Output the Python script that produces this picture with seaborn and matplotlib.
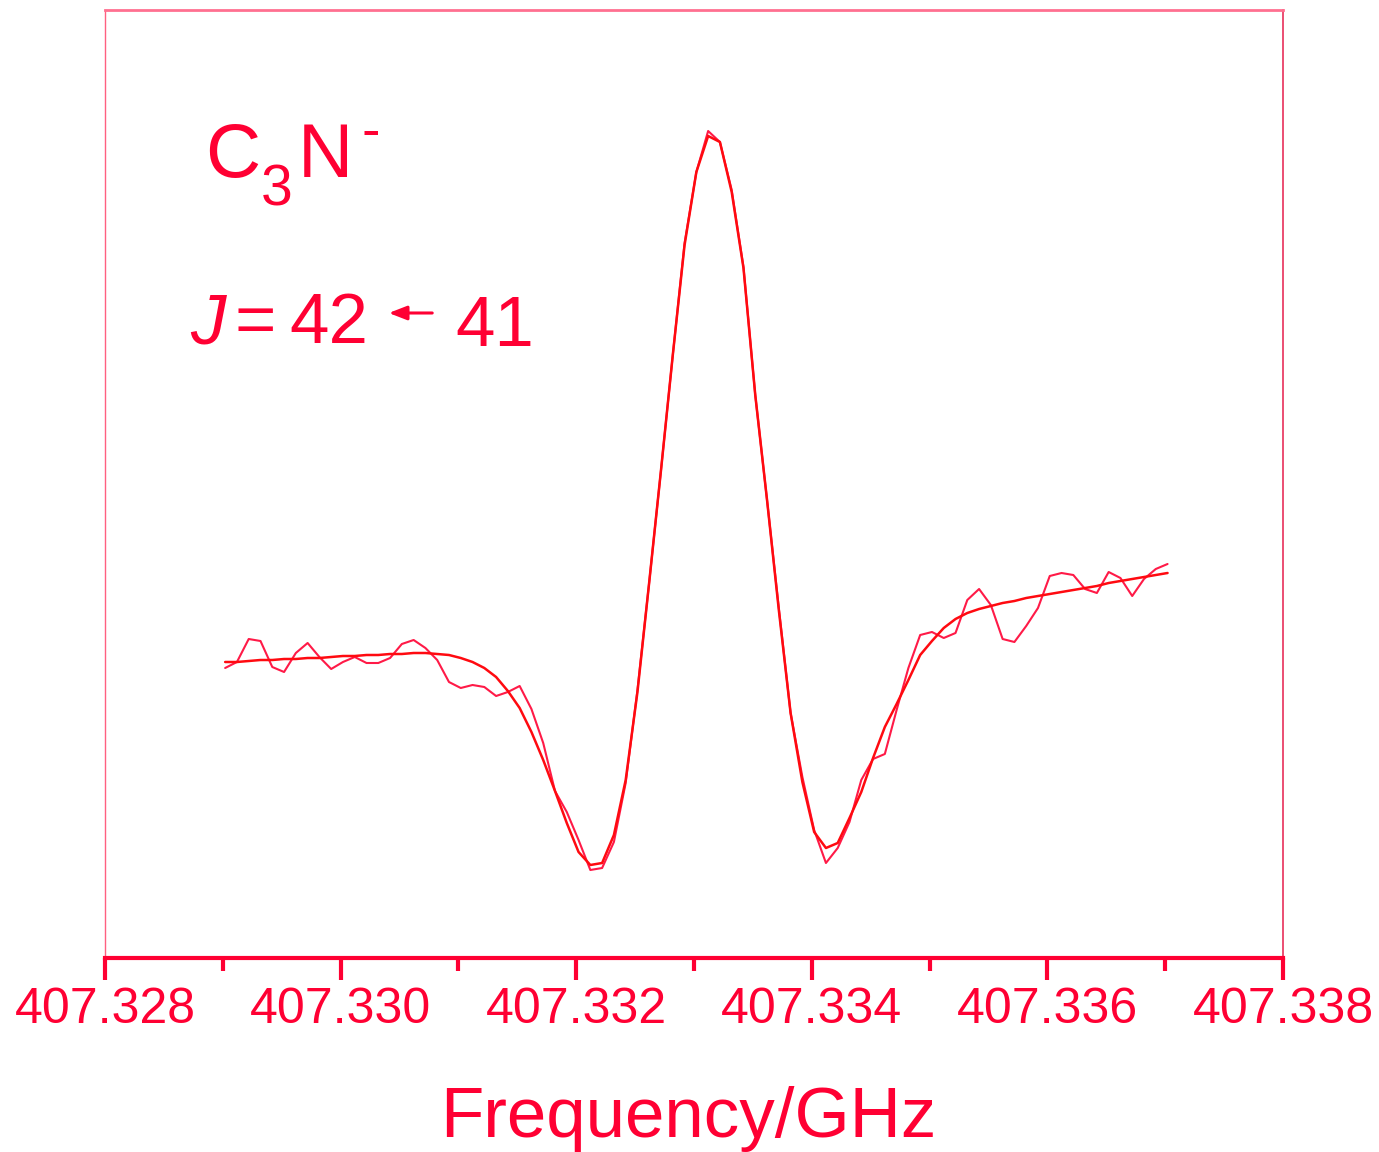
import numpy as np
import pandas as pd
import matplotlib
matplotlib.use("Agg")
import matplotlib.pyplot as plt
import seaborn as sns

# Spectrum of C3N- (J = 42 <- 41): observed channels and the fitted profile
freq_start = 407.32902   # GHz, first channel
channel_width = 0.0001   # GHz

observed = [
    29.0, 29.6, 31.9, 31.7, 29.1, 28.6, 30.5, 31.5, 30.1, 28.9,
    29.6, 30.1, 29.5, 29.5, 30.0, 31.4, 31.8, 31.0, 29.8, 27.6,
    27.0, 27.3, 27.1, 26.2, 26.6, 27.2, 24.9, 21.5, 16.7, 14.6,
    11.8, 8.8, 9.0, 11.6, 17.5, 26.8, 37.6, 48.8, 60.3, 71.5,
    78.6, 82.7, 81.6, 76.8, 69.1, 56.3, 45.8, 35.0, 24.5, 18.1,
    12.8, 9.5, 11.0, 13.6, 17.8, 19.9, 20.4, 24.8, 29.0, 32.3,
    32.6, 32.0, 32.5, 35.8, 36.9, 35.3, 31.9, 31.6, 33.2, 35.0,
    38.2, 38.5, 38.3, 36.9, 36.5, 38.6, 38.0, 36.2, 37.9, 38.9,
    39.4,
]

fitted = [
    29.6, 29.6, 29.7, 29.8, 29.8, 29.9, 29.9, 30.0, 30.0, 30.1,
    30.2, 30.2, 30.3, 30.3, 30.4, 30.4, 30.5, 30.5, 30.4, 30.3,
    30.0, 29.6, 29.0, 28.1, 26.7, 25.0, 22.6, 19.8, 16.7, 13.5,
    10.6, 9.3, 9.5, 12.3, 17.8, 26.6, 37.6, 48.8, 60.3, 71.3,
    78.6, 82.2, 81.6, 76.6, 69.0, 56.3, 45.8, 34.8, 24.5, 17.6,
    12.6, 11.0, 11.5, 14.0, 16.6, 20.0, 23.1, 25.4, 27.8, 30.3,
    31.7, 33.0, 33.9, 34.5, 34.9, 35.2, 35.5, 35.7, 36.0, 36.2,
    36.4, 36.6, 36.8, 37.0, 37.2, 37.5, 37.7, 37.9, 38.1, 38.3,
    38.5,
]

freq = freq_start + channel_width * np.arange(len(observed))
df = pd.DataFrame({"freq": freq, "observed": observed, "fitted": fitted})

x_ticks = [407.328, 407.330, 407.332, 407.334, 407.336, 407.338]
x_minor = [407.329, 407.331, 407.333, 407.335, 407.337]
tick_labels = ["407.328", "407.330", "407.332", "407.334", "407.336", "407.338"]

sns.set_theme(style="white")
plt.rcParams["font.family"] = ["Liberation Sans", "DejaVu Sans"]

ink = "#FF0033"

fig = plt.figure(figsize=(13.79, 11.52), dpi=100)
ax = fig.add_axes([105 / 1379, 1 - 958 / 1152, 1178 / 1379, 948 / 1152])

sns.lineplot(data=df, x="freq", y="observed", ax=ax, color="#FF1A47",
             linewidth=1.5, estimator=None, sort=False)
sns.lineplot(data=df, x="freq", y="fitted", ax=ax, color="#FF0A10",
             linewidth=1.8, estimator=None, sort=False)

ax.set_xlim(407.328, 407.338)
ax.set_ylim(0, 94.8)
ax.set_yticks([])
ax.set_ylabel("")

ax.set_xticks(x_ticks)
ax.set_xticklabels(tick_labels)
ax.set_xticks(x_minor, minor=True)
ax.tick_params(axis="x", which="major", direction="out", length=16, width=3,
               color=ink, labelcolor=ink, labelsize=36, pad=5, bottom=True)
ax.tick_params(axis="x", which="minor", direction="out", length=9, width=3,
               color=ink, bottom=True)

ax.spines["bottom"].set_color(ink)
ax.spines["bottom"].set_linewidth(3)
ax.spines["top"].set_color("#FF7090")
ax.spines["top"].set_linewidth(2)
ax.spines["right"].set_color("#E8305A")
ax.spines["right"].set_linewidth(1.2)
ax.spines["left"].set_color("#FF6080")
ax.spines["left"].set_linewidth(1.0)

ax.set_xlabel("Frequency/GHz", color=ink, fontsize=51)
ax.xaxis.set_label_coords((688 - 105) / 1178, -(1137 - 958) / 948)
ax.xaxis.label.set_va("baseline")


def px(x, y):
    return x / 1379, 1 - y / 1152


# Molecule label C3N-
fig.text(*px(205, 177), "C", color=ink, fontsize=55, va="baseline", ha="left")
fig.text(*px(261, 206), "3", color=ink, fontsize=41, va="baseline", ha="left")
fig.text(*px(298, 177), "N", color=ink, fontsize=55, va="baseline", ha="left")
fig.text(*px(361, 148), "-", color=ink, fontsize=40, va="baseline", ha="left")

# Transition label J = 42 <- 41
fig.text(*px(190, 343), "J", color=ink, fontsize=51, va="baseline", ha="left",
         style="italic")
fig.text(*px(234, 343), "=", color=ink, fontsize=51, va="baseline", ha="left")
fig.text(*px(289, 343), "42", color=ink, fontsize=51, va="baseline", ha="left")
fig.text(*px(455, 346), "41", color=ink, fontsize=51, va="baseline", ha="left")
fig.add_artist(matplotlib.patches.FancyArrowPatch(
    px(435, 313), px(386, 313), transform=fig.transFigure,
    arrowstyle="-|>,head_length=0.9,head_width=0.35", mutation_scale=12,
    color=ink, linewidth=2.2))

fig.savefig("out.png", dpi=100, facecolor="white")
